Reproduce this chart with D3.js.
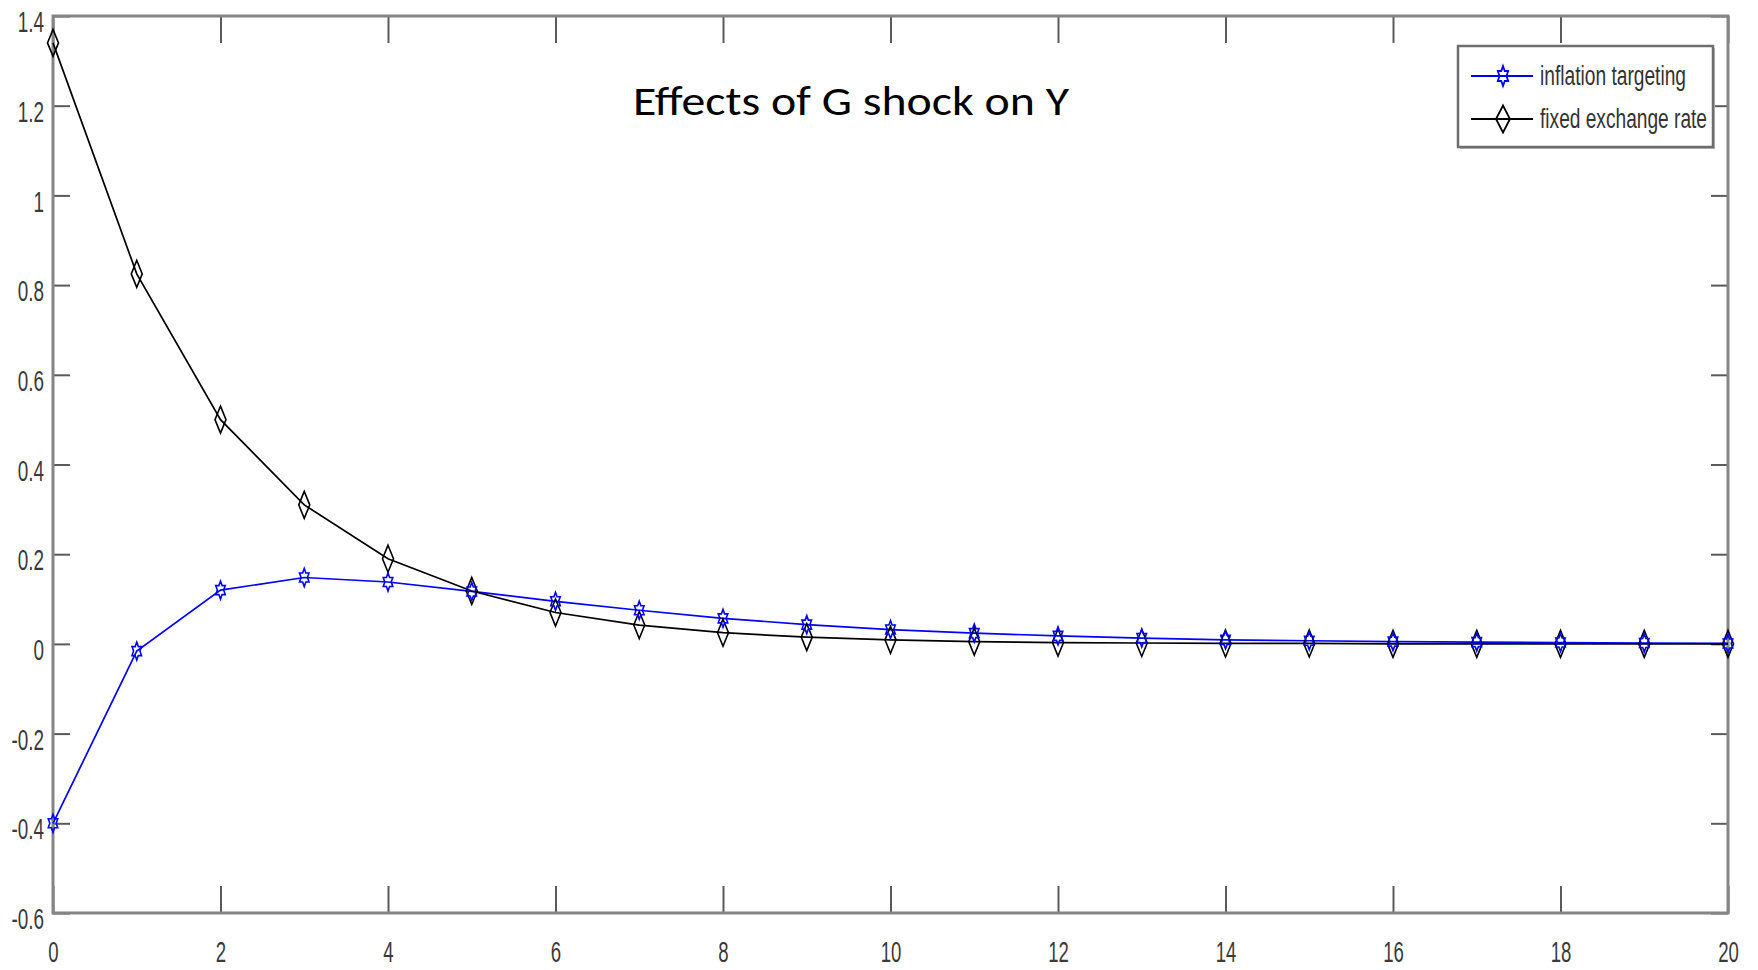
<!DOCTYPE html>
<html>
<head>
  <meta charset="utf-8">
  <script src="https://d3js.org/d3.v7.min.js"></script>
  <style>
    body { margin: 0; background: #fff; }
    .tick text { font-family: "Liberation Sans", Arial, sans-serif; fill: #3a3a3a; }
    .tick line { stroke: #5a5a5a; stroke-width: 2px; }
    .domain { display: none; }
  </style>
</head>
<body>
<script type="text/javascript">
  /*
    Data
  */
  var periods = d3.range(0, 21);
  var inflationTargeting = [-0.40, -0.016, 0.12, 0.148, 0.138, 0.117, 0.095, 0.075, 0.057, 0.043, 0.032,
                            0.024, 0.018, 0.013, 0.009, 0.007, 0.005, 0.004, 0.003, 0.002, 0.001];
  var fixedExchangeRate = [1.34, 0.825, 0.50, 0.31, 0.19, 0.118, 0.07, 0.042, 0.025, 0.015, 0.009,
                           0.005, 0.003, 0.002, 0.001, 0.001, 0.0, 0.0, 0.0, 0.0, 0.0];
  var seriesNames = ["inflation targeting", "fixed exchange rate"];
  var xTicks = [0, 2, 4, 6, 8, 10, 12, 14, 16, 18, 20];
  var yTicks = [-0.6, -0.4, -0.2, 0, 0.2, 0.4, 0.6, 0.8, 1, 1.2, 1.4];
  var chartTitle = "Effects of G shock on Y";

  function draw() {
    /*
      D3.js setup code
    */
    "use strict";
    var W = 1758, H = 970;
    var plotLeft = 53, plotRight = 1728, plotTop = 16, plotBottom = 913;

    var svg = d3.select("body")
      .append("svg")
      .attr("width", W)
      .attr("height", H);

    svg.append("rect")
      .attr("width", W).attr("height", H)
      .attr("fill", "#fff");

    var x = d3.scaleLinear().domain([0, 20]).range([plotLeft, plotRight]);
    var y = d3.scaleLinear().domain([-0.6, 1.4]).range([plotBottom, plotTop]);

    /*
      Axes, matlab style box with inward ticks
    */
    var xAxis = svg.append("g")
      .attr("transform", "translate(0," + plotBottom + ")")
      .call(d3.axisBottom(x).tickValues(xTicks).tickSizeInner(-27).tickSizeOuter(0)
        .tickPadding(28).tickFormat(d3.format("d")));
    xAxis.selectAll(".tick text")
      .style("font-size", "30px")
      .attr("transform", "scale(0.62,1)")
      .attr("x", 0);

    svg.append("g")
      .attr("transform", "translate(0," + plotTop + ")")
      .call(d3.axisTop(x).tickValues(xTicks).tickSizeInner(-27).tickSizeOuter(0).tickFormat(""));

    var yAxis = svg.append("g")
      .attr("transform", "translate(" + plotLeft + ",0)")
      .call(d3.axisLeft(y).tickValues(yTicks).tickSizeInner(-17).tickSizeOuter(0)
        .tickFormat(function(d) { return String(+d.toFixed(1)); }));
    yAxis.selectAll(".tick text")
      .style("font-size", "30px")
      .attr("transform", "scale(0.63,1)")
      .attr("x", -9 / 0.63)
      .attr("dy", "0.52em");

    svg.append("g")
      .attr("transform", "translate(" + plotRight + ",0)")
      .call(d3.axisRight(y).tickValues(yTicks).tickSizeInner(-17).tickSizeOuter(0).tickFormat(""));

    svg.append("rect")
      .attr("x", plotLeft).attr("y", plotTop)
      .attr("width", plotRight - plotLeft).attr("height", plotBottom - plotTop)
      .attr("fill", "none")
      .attr("stroke", "#858585")
      .attr("stroke-width", 3);

    /*
      Marker shapes (stretched like the picture)
    */
    function diamondPath(w, h) {
      return "M0," + (-h / 2) + "L" + (w / 2) + ",0L0," + (h / 2) + "L" + (-w / 2) + ",0Z";
    }
    function hexagramPath(w, h) {
      var pts = [];
      for (var k = 0; k < 12; k++) {
        var a = -Math.PI / 2 + k * Math.PI / 6;
        var r = (k % 2 === 0) ? 1 : 1 / Math.sqrt(3);
        pts.push([Math.cos(a) * r * w / 2, Math.sin(a) * r * h / 2]);
      }
      return "M" + pts.map(function(p) { return p[0].toFixed(2) + "," + p[1].toFixed(2); }).join("L") + "Z";
    }

    var line = d3.line()
      .x(function(d, i) { return x(periods[i]); })
      .y(function(d) { return y(d); });

    var series = [
      { name: seriesNames[0], values: inflationTargeting, color: "#0000ff", shape: hexagramPath(11, 18) },
      { name: seriesNames[1], values: fixedExchangeRate, color: "#000000", shape: diamondPath(11, 27) }
    ];

    series.forEach(function(s) {
      svg.append("path")
        .datum(s.values)
        .attr("d", line)
        .attr("fill", "none")
        .attr("stroke", s.color)
        .attr("stroke-width", 1.7);
    });
    // markers drawn after both lines
    series.slice().reverse().forEach(function(s) {
      svg.append("g").selectAll("path")
        .data(s.values)
        .enter().append("path")
        .attr("d", s.shape)
        .attr("transform", function(d, i) { return "translate(" + x(periods[i]) + "," + y(d) + ")"; })
        .attr("fill", "none")
        .attr("stroke", s.color)
        .attr("stroke-width", 1.6);
    });

    /*
      Title inside the plot
    */
    svg.append("text")
      .attr("x", 851)
      .attr("y", 115)
      .attr("text-anchor", "middle")
      .attr("textLength", 436)
      .attr("lengthAdjust", "spacingAndGlyphs")
      .style("font-family", "Carlito, Calibri, Lato, sans-serif")
      .style("font-size", "42px")
      .style("fill", "#000")
      .text(chartTitle);

    /*
      Legend
    */
    var lg = svg.append("g");
    lg.append("rect")
      .attr("x", 1460).attr("y", 48)
      .attr("width", 255).attr("height", 101)
      .attr("fill", "#bbb");
    lg.append("rect")
      .attr("x", 1458).attr("y", 46)
      .attr("width", 255).attr("height", 101)
      .attr("fill", "#fff")
      .attr("stroke", "#6e6e6e")
      .attr("stroke-width", 2.5);

    var legendWidths = [146, 167];
    var legendShapes = [hexagramPath(12, 20), diamondPath(14, 27)];
    series.forEach(function(s, i) {
      var ly = 76 + i * 43;
      lg.append("line")
        .attr("x1", 1471).attr("x2", 1533)
        .attr("y1", ly).attr("y2", ly)
        .attr("stroke", s.color)
        .attr("stroke-width", 2);
      lg.append("path")
        .attr("d", legendShapes[i])
        .attr("transform", "translate(1503," + ly + ")")
        .attr("fill", "none")
        .attr("stroke", s.color)
        .attr("stroke-width", 1.8);
      lg.append("text")
        .attr("x", 1540)
        .attr("y", ly + 9)
        .attr("textLength", legendWidths[i])
        .attr("lengthAdjust", "spacingAndGlyphs")
        .style("font-family", "'Liberation Sans', Arial, sans-serif")
        .style("font-size", "27px")
        .style("fill", "#333")
        .text(s.name);
    });
  }

  draw();
</script>
</body>
</html>
